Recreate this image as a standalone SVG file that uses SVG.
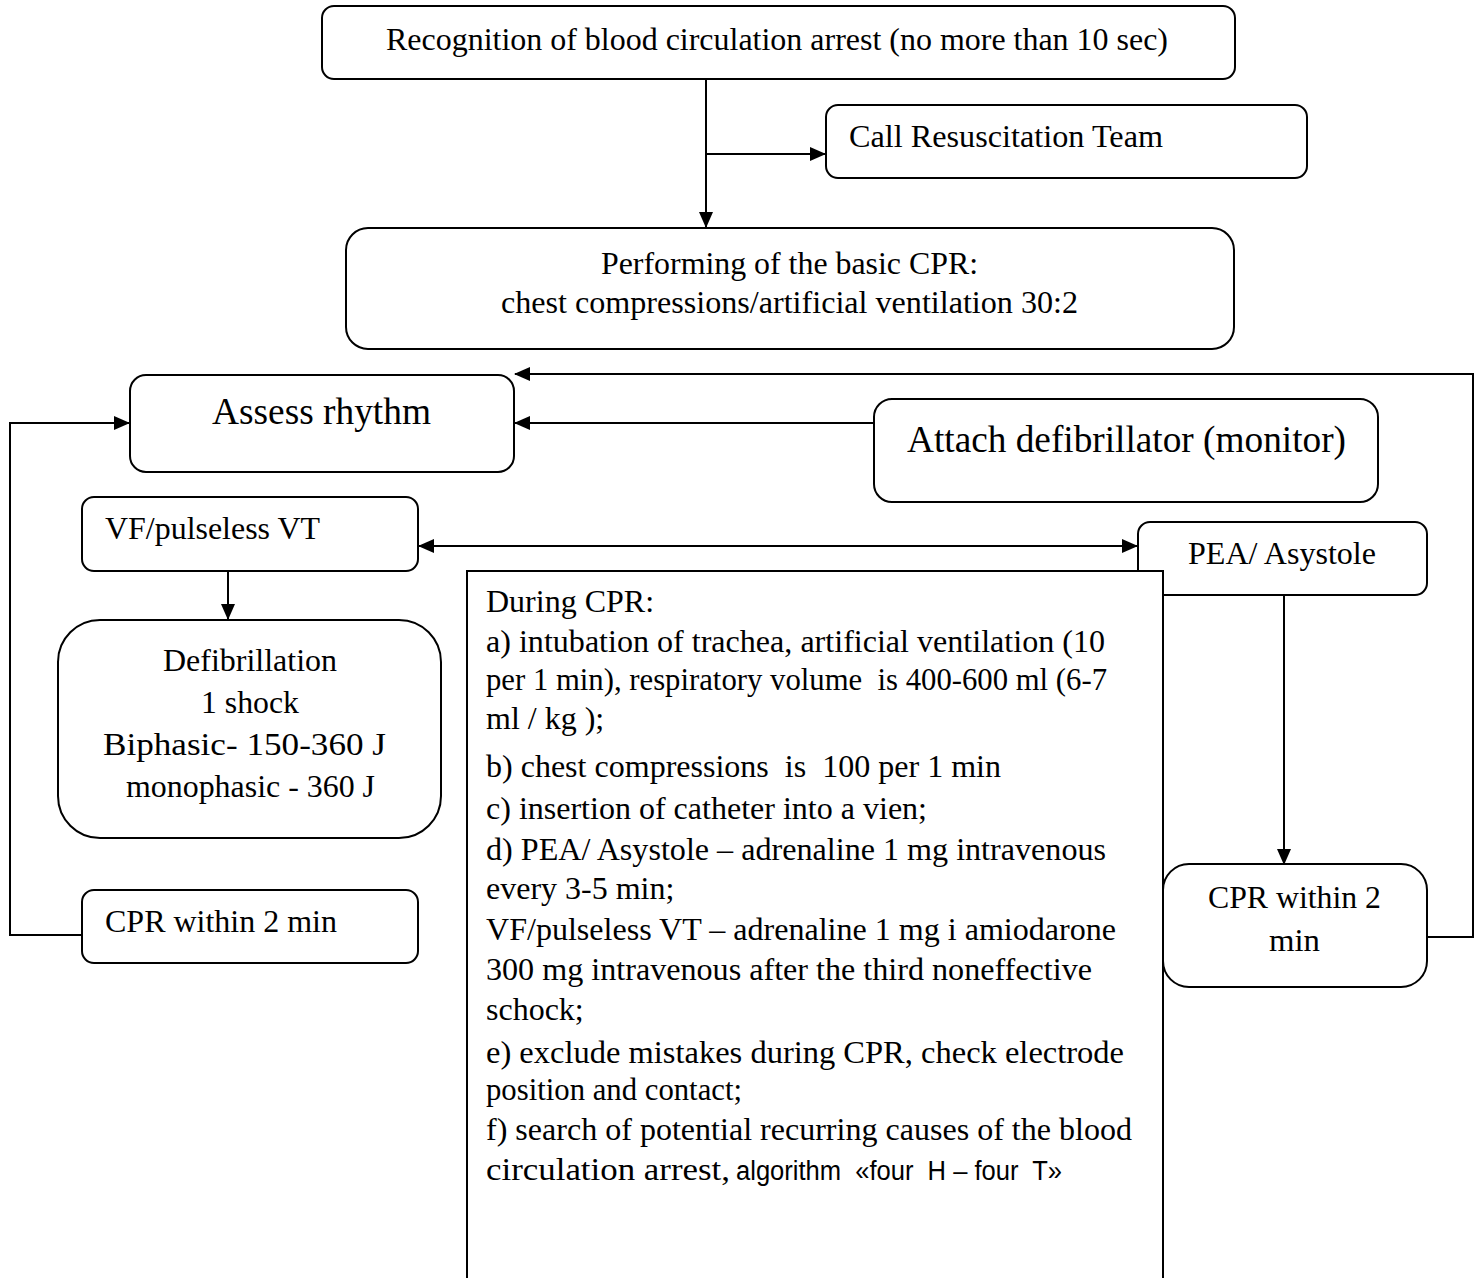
<svg xmlns="http://www.w3.org/2000/svg" width="1480" height="1278" viewBox="0 0 1480 1278">
<style>
.box{fill:#fff;stroke:#000;stroke-width:2}
.t{font-family:"Liberation Serif","Times New Roman",serif;font-size:32px;fill:#000}
.big{font-size:37px}
.s{font-family:"Liberation Sans",Arial,sans-serif;fill:#000}
.ln{fill:none;stroke:#000;stroke-width:2}
</style>
<defs>
<marker id="ah" markerWidth="16" markerHeight="14" refX="15" refY="7" orient="auto" markerUnits="userSpaceOnUse">
<path d="M0,0 L16,7 L0,14 Z" fill="#000"/>
</marker>
<marker id="as" markerWidth="16" markerHeight="14" refX="1" refY="7" orient="auto" markerUnits="userSpaceOnUse">
<path d="M16,0 L0,7 L16,14 Z" fill="#000"/>
</marker>
</defs>
<rect width="1480" height="1278" fill="#fff"/>
<g id="connectors">
<line class="ln" x1="706" y1="79" x2="706" y2="227" marker-end="url(#ah)"/>
<line class="ln" x1="706" y1="154" x2="825" y2="154" marker-end="url(#ah)"/>
<line class="ln" x1="874" y1="423" x2="515" y2="423" marker-end="url(#ah)"/>
<polyline class="ln" points="1427,937 1473,937 1473,374 515,374" marker-end="url(#ah)"/>
<polyline class="ln" points="82,935 10,935 10,423 129,423" marker-end="url(#ah)"/>
<line class="ln" x1="228" y1="571" x2="228" y2="619" marker-end="url(#ah)"/>
<line class="ln" x1="419" y1="546" x2="1137" y2="546" marker-start="url(#as)" marker-end="url(#ah)"/>
<line class="ln" x1="1284" y1="595" x2="1284" y2="864" marker-end="url(#ah)"/>
</g>
<g id="n-recognition">
<rect class="box" x="322" y="6" width="913" height="73" rx="12"/>
<text class="t" x="386" y="50" textLength="782" lengthAdjust="spacingAndGlyphs">Recognition of blood circulation arrest (no more than 10 sec)</text>
</g>
<g id="n-call">
<rect class="box" x="826" y="105" width="481" height="73" rx="12"/>
<text class="t" x="849" y="147" textLength="314" lengthAdjust="spacingAndGlyphs">Call Resuscitation Team</text>
</g>
<g id="n-basic">
<rect class="box" x="346" y="228" width="888" height="121" rx="22"/>
<text class="t" x="601" y="274" textLength="377" lengthAdjust="spacingAndGlyphs">Performing of the basic CPR:</text>
<text class="t" x="501" y="313" textLength="577" lengthAdjust="spacingAndGlyphs">chest compressions/artificial ventilation 30:2</text>
</g>
<g id="n-assess">
<rect class="box" x="130" y="375" width="384" height="97" rx="16"/>
<text class="t big" x="212" y="424" textLength="219" lengthAdjust="spacingAndGlyphs">Assess rhythm</text>
</g>
<g id="n-attach">
<rect class="box" x="874" y="399" width="504" height="103" rx="18"/>
<text class="t big" x="907" y="452" textLength="439" lengthAdjust="spacingAndGlyphs">Attach defibrillator (monitor)</text>
</g>
<g id="n-vf">
<rect class="box" x="82" y="497" width="336" height="74" rx="12"/>
<text class="t" x="105" y="539" textLength="215" lengthAdjust="spacingAndGlyphs">VF/pulseless VT</text>
</g>
<g id="n-pea">
<rect class="box" x="1138" y="522" width="289" height="73" rx="12"/>
<text class="t" x="1188" y="564" textLength="188" lengthAdjust="spacingAndGlyphs">PEA/ Asystole</text>
</g>
<g id="n-defib">
<rect class="box" x="58" y="620" width="383" height="218" rx="42"/>
<text class="t" x="163" y="671" textLength="174" lengthAdjust="spacingAndGlyphs">Defibrillation</text>
<text class="t" x="201" y="713" textLength="98" lengthAdjust="spacingAndGlyphs">1 shock</text>
<text class="t" x="103" y="755" textLength="283" lengthAdjust="spacingAndGlyphs">Biphasic- 150-360 J</text>
<text class="t" x="126" y="797" textLength="249" lengthAdjust="spacingAndGlyphs">monophasic - 360 J</text>
</g>
<g id="n-cpr-left">
<rect class="box" x="82" y="890" width="336" height="73" rx="12"/>
<text class="t" x="105" y="932" textLength="232" lengthAdjust="spacingAndGlyphs">CPR within 2 min</text>
</g>
<g id="n-during">
<rect class="box" x="467" y="571" width="696" height="720"/>
<g class="t">
<text x="486" y="612">During CPR:</text>
<text x="486" y="652" textLength="619" lengthAdjust="spacingAndGlyphs">a) intubation of trachea, artificial ventilation (10</text>
<text x="486" y="690" textLength="621" lengthAdjust="spacingAndGlyphs" xml:space="preserve">per 1 min), respiratory volume  is 400-600 ml (6-7</text>
<text x="486" y="729">ml / kg );</text>
<text x="486" y="777" textLength="515" lengthAdjust="spacingAndGlyphs" xml:space="preserve">b) chest compressions  is  100 per 1 min</text>
<text x="486" y="819" textLength="441" lengthAdjust="spacingAndGlyphs">c) insertion of catheter into a vien;</text>
<text x="486" y="860" textLength="620" lengthAdjust="spacingAndGlyphs">d) PEA/ Asystole – adrenaline 1 mg intravenous</text>
<text x="486" y="899">every 3-5 min;</text>
<text x="486" y="940" textLength="630" lengthAdjust="spacingAndGlyphs">VF/pulseless VT – adrenaline 1 mg i amiodarone</text>
<text x="486" y="980" textLength="606" lengthAdjust="spacingAndGlyphs">300 mg intravenous after the third noneffective</text>
<text x="486" y="1020">schock;</text>
<text x="486" y="1063" textLength="638" lengthAdjust="spacingAndGlyphs">e) exclude mistakes during CPR, check electrode</text>
<text x="486" y="1100" textLength="256" lengthAdjust="spacingAndGlyphs">position and contact;</text>
<text x="486" y="1140" textLength="646" lengthAdjust="spacingAndGlyphs">f) search of potential recurring causes of the blood</text>
<text x="486" y="1180" textLength="244" lengthAdjust="spacingAndGlyphs">circulation arrest,</text>
</g>
<text class="s" x="736" y="1180" font-size="27" textLength="326" lengthAdjust="spacingAndGlyphs" xml:space="preserve">algorithm  «four  H – four  T»</text>
</g>
<g id="n-cpr-right">
<rect class="box" x="1163" y="864" width="264" height="123" rx="26"/>
<text class="t" x="1208" y="908" textLength="173" lengthAdjust="spacingAndGlyphs">CPR within 2</text>
<text class="t" x="1269" y="951" textLength="51" lengthAdjust="spacingAndGlyphs">min</text>
</g>
</svg>
